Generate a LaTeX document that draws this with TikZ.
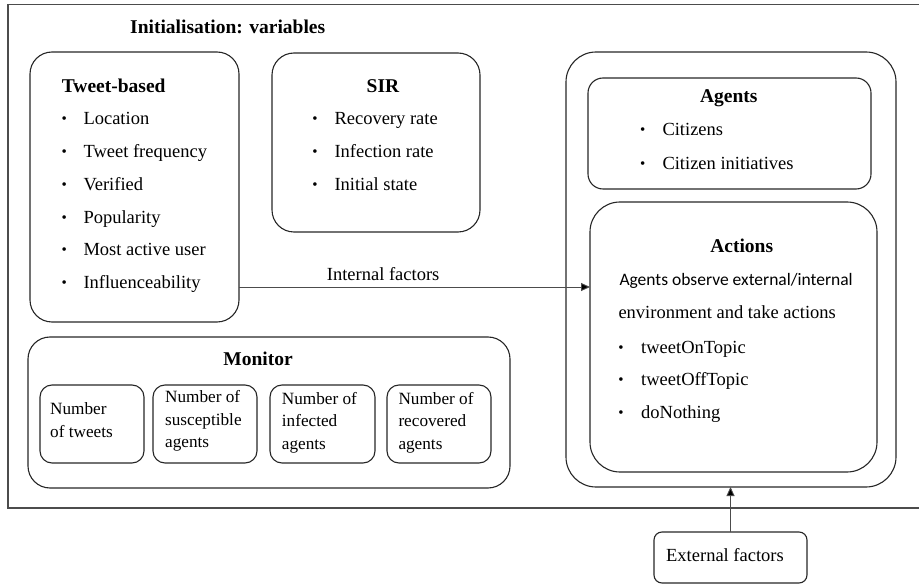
\documentclass[tikz,border=0pt]{standalone}
\usepackage{fontspec}
\setmainfont{Liberation Serif}
\newfontfamily\carl{Carlito}
\usetikzlibrary{arrows.meta}
\begin{document}
\begin{tikzpicture}[x=1pt,y=-1pt,
  box/.style={draw=black!85,line width=1.1pt,inner sep=0pt,outer sep=0pt},
  txt/.style={anchor=base west,inner sep=0pt,font=\fontsize{18.5}{22}\selectfont},
  mtxt/.style={anchor=base west,inner sep=0pt,font=\fontsize{17.2}{22}\selectfont},
  ctxt/.style={anchor=base,inner sep=0pt,font=\fontsize{18.5}{22}\selectfont},
  ttl/.style={anchor=base,inner sep=0pt,font=\fontsize{19.5}{24}\selectfont\bfseries},
  bul/.style={anchor=base,inner sep=0pt,font=\fontsize{15}{22}\selectfont},
  conn/.style={draw=black!70,line width=0.9pt,-{Triangle[length=9pt,width=8pt,fill=black]}}]
\useasboundingbox (0,0) rectangle (919,585);
% outer frame (open to the right)
\coordinate (frTR) at (919,4.5);
\coordinate (frTL) at (8,4.5);
\coordinate (frBL) at (8,508);
\coordinate (frBR) at (919,508);
\draw[draw=black!70,line width=1.1pt] (frTR) -- (frTL) -- (frBL) -- (frBR);
\node[ttl,anchor=base west] (init) at (130,34) {Initialisation: variables};

% Tweet-based
\node[box,rounded corners=22pt,minimum width=209pt,minimum height=270pt] (tb) at (134.5,187) {};
\node[ttl,anchor=base west] (tbtitle) at (61.7,92.3) {Tweet-based};
\foreach \t [count=\i] in {Location,Tweet frequency,Verified,Popularity,Most active user,Influenceability} {
  \node[bul] (tbb\i) at (64.3,{91.3+32.7*\i}) {\textbullet};
  \node[txt] (tbt\i) at (83.3,{92.3+32.7*\i}) {\t};
}

% SIR
\node[box,rounded corners=22pt,minimum width=208pt,minimum height=179pt] (sir) at (376,142.5) {};
\node[ttl] (sirtitle) at (383,92.3) {SIR};
\foreach \t [count=\i] in {Recovery rate,Infection rate,Initial state} {
  \node[bul] (sirb\i) at (315,{91.3+32.7*\i}) {\textbullet};
  \node[txt] (sirt\i) at (334.3,{92.3+32.7*\i}) {\t};
}

% right big box
\node[box,rounded corners=30pt,minimum width=330pt,minimum height=435pt] (big) at (731,269.5) {};
% Agents
\node[box,rounded corners=15pt,minimum width=283pt,minimum height=111pt] (ag) at (729.5,133.5) {};
\node[ttl] (agtitle) at (728.8,102.3) {Agents};
\foreach \t [count=\i] in {Citizens,Citizen initiatives} {
  \node[bul] (agb\i) at (642.7,{101.7+33.3*\i}) {\textbullet};
  \node[txt] (agt\i) at (662.3,{102.7+33.3*\i}) {\t};
}
% Actions
\node[box,rounded corners=30pt,minimum width=287pt,minimum height=270pt] (act) at (733.5,337) {};
\node[ttl] (acttitle) at (741.7,252.3) {Actions};
\node[txt,font=\fontsize{17.5}{22}\carl] (actl1) at (619.3,285.7) {Agents observe external/internal};
\node[txt] (actl2) at (618.3,319) {environment and take actions};
\foreach \t [count=\i] in {tweetOnTopic,tweetOffTopic,doNothing} {
  \node[bul] (actb\i) at (621,{319.7+32.6*\i}) {\textbullet};
  \node[txt] (actt\i) at (641,{320.7+32.6*\i}) {\t};
}

% Monitor
\node[box,rounded corners=22pt,minimum width=482pt,minimum height=151pt] (mon) at (269,412.5) {};
\node[ttl] (montitle) at (258,365.7) {Monitor};
\node[box,rounded corners=12pt,minimum width=104pt,minimum height=78pt] (m1) at (92,424) {};
\node[box,rounded corners=12pt,minimum width=104pt,minimum height=78pt] (m2) at (205,424) {};
\node[box,rounded corners=12pt,minimum width=105pt,minimum height=78pt] (m3) at (322.5,424) {};
\node[box,rounded corners=12pt,minimum width=104pt,minimum height=78pt] (m4) at (439,424) {};
\node[mtxt] (m1a) at (50,415) {Number};
\node[mtxt] (m1b) at (50,437.7) {of tweets};
\node[mtxt] (m2a) at (165,402.3) {Number of};
\node[mtxt] (m2b) at (165,425) {susceptible};
\node[mtxt] (m2c) at (165,447.3) {agents};
\node[mtxt] (m3a) at (281.7,404.3) {Number of};
\node[mtxt] (m3b) at (281.7,427) {infected};
\node[mtxt] (m3c) at (281.7,449.3) {agents};
\node[mtxt] (m4a) at (398.3,404.3) {Number of};
\node[mtxt] (m4b) at (398.3,427) {recovered};
\node[mtxt] (m4c) at (398.3,449.3) {agents};

% External factors
\node[box,rounded corners=8pt,minimum width=153pt,minimum height=51pt] (ext) at (730.5,557.5) {};
\node[ctxt] (exttxt) at (725,561.7) {External factors};

% connectors
\draw[conn] ([yshift=-100pt]tb.east) -- ([yshift=50pt]act.west);
\node[txt] (intlbl) at (326.7,280.7) {Internal factors};
\draw[conn] (ext.north) -- (ext.north |- big.south);
\end{tikzpicture}
\end{document}
